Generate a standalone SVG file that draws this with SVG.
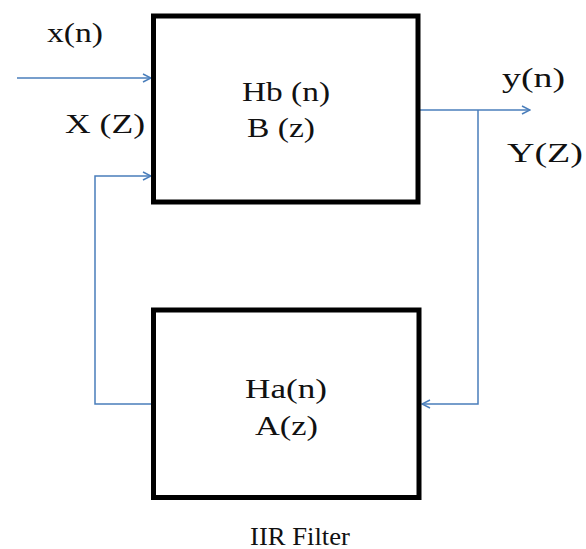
<svg xmlns="http://www.w3.org/2000/svg" width="586" height="549" viewBox="0 0 586 549">
<defs>
<marker id="arr" viewBox="0 0 10 10" refX="9" refY="5" markerWidth="10" markerHeight="10" markerUnits="userSpaceOnUse" orient="auto">
<path d="M1,1 L9,5 L1,9" fill="none" stroke="#4a7ebb" stroke-width="1.5"/>
</marker>
</defs>
<style>
.box{fill:#fff;stroke:#000;stroke-width:5}
.wire{fill:none;stroke:#4a7ebb;stroke-width:1.5}
.t{font-family:"Liberation Serif",serif;font-size:28px;fill:#111}
</style>
<rect width="586" height="549" fill="#fff"/>
<g id="connectors">
<line class="wire" x1="17" y1="78" x2="151" y2="78" marker-end="url(#arr)"/>
<line class="wire" x1="420" y1="110" x2="530" y2="110" marker-end="url(#arr)"/>
<polyline class="wire" points="478,110 478,404 422,404" marker-end="url(#arr)"/>
<polyline class="wire" points="151,404 95,404 95,176 151,176" marker-end="url(#arr)"/>
</g>
<g id="hb">
<rect class="box" x="153.5" y="16" width="264.5" height="186"/>
<text class="t" x="242" y="101" textLength="88" lengthAdjust="spacingAndGlyphs">Hb (n)</text>
<text class="t" x="247" y="137" textLength="68" lengthAdjust="spacingAndGlyphs">B (z)</text>
</g>
<g id="ha">
<rect class="box" x="153.5" y="310" width="265.5" height="187.5"/>
<text class="t" x="245" y="398" textLength="82" lengthAdjust="spacingAndGlyphs">Ha(n)</text>
<text class="t" x="255" y="435" textLength="63" lengthAdjust="spacingAndGlyphs">A(z)</text>
</g>
<g id="labels">
<text class="t" x="47" y="42" textLength="56" lengthAdjust="spacingAndGlyphs">x(n)</text>
<text class="t" x="65" y="133" textLength="80" lengthAdjust="spacingAndGlyphs">X (Z)</text>
<text class="t" x="502" y="87" textLength="63" lengthAdjust="spacingAndGlyphs">y(n)</text>
<text class="t" x="507" y="162" textLength="76" lengthAdjust="spacingAndGlyphs">Y(Z)</text>
<text class="t" x="250" y="545" textLength="100" lengthAdjust="spacingAndGlyphs" style="font-size:25px">IIR Filter</text>
</g>
</svg>
